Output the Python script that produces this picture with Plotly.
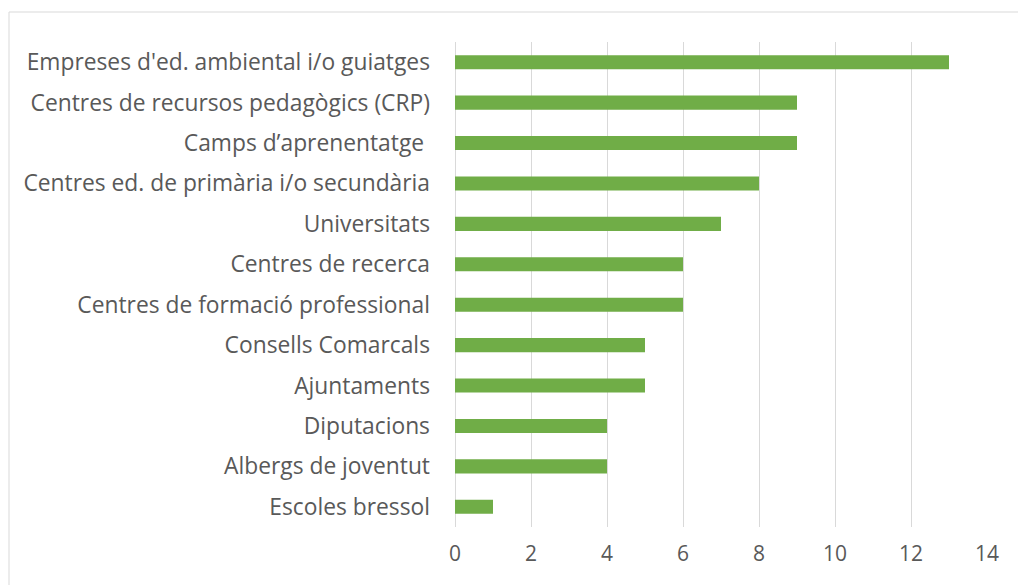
import plotly.graph_objects as go

categories = [
    "Empreses d'ed. ambiental i/o guiatges",
    "Centres de recursos pedagògics (CRP)",
    "Camps d’aprenentatge\u00a0",
    "Centres ed. de primària i/o secundària",
    "Universitats",
    "Centres de recerca",
    "Centres de formació professional",
    "Consells Comarcals",
    "Ajuntaments",
    "Diputacions",
    "Albergs de joventut",
    "Escoles bressol",
]
values = [13, 9, 9, 8, 7, 6, 6, 5, 5, 4, 4, 1]
tick_vals = [0, 2, 4, 6, 8, 10, 12, 14]

fig = go.Figure(go.Bar(
    x=values, y=categories, orientation="h",
    marker=dict(color="#70ad47", line=dict(width=0)),
    width=0.35,
))

W, H = 1018, 585
L, R, T, B = 455, 31, 42, 58
pw, ph = W - L - R, H - T - B

fig.update_layout(
    width=W, height=H,
    margin=dict(l=L, r=R, t=T, b=B),
    paper_bgcolor="white", plot_bgcolor="white",
    font=dict(family="Open Sans", size=22.8, color="#595959"),
    showlegend=False,
)
fig.update_xaxes(
    range=[0, 14], tickvals=tick_vals, showgrid=True, gridcolor="#d9d9d9", gridwidth=1,
    zeroline=True, zerolinecolor="#d9d9d9", zerolinewidth=1, showline=False,
    ticks="", ticklabelstandoff=12, tickfont=dict(size=21),
)
fig.update_yaxes(
    categoryorder="array", categoryarray=categories[::-1],
    showgrid=False, showline=False, ticks="", ticklabelstandoff=24,
)
fig.add_shape(
    type="rect", xref="paper", yref="paper",
    x0=(9 - L) / pw, x1=2, y0=-1, y1=(H - B - 12) / ph,
    line=dict(color="#d9d9d9", width=1), fillcolor="rgba(0,0,0,0)", layer="below",
)
fig.write_html("out.html", config={"displayModeBar": False},
               post_script="document.body.style.margin='0';")
